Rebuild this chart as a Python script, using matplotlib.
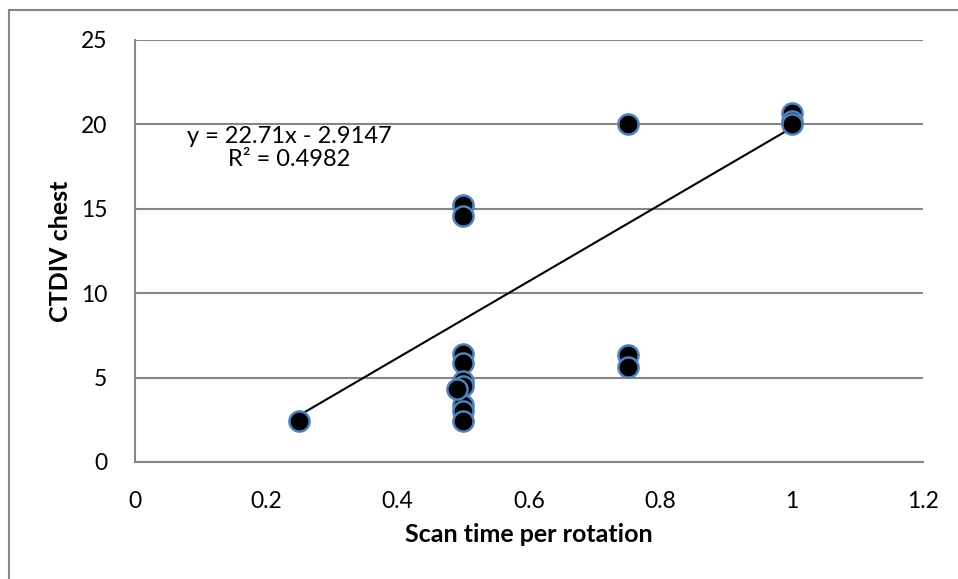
import matplotlib
matplotlib.use("Agg")
import matplotlib.pyplot as plt
from matplotlib.patches import Rectangle

# Data
scan_time = [0.25, 0.5, 0.5, 0.5, 0.5, 0.5, 0.5, 0.5, 0.49, 0.5, 0.5,
             0.75, 0.75, 0.75, 1.0, 1.0, 1.0]
ctdiv_chest = [2.45, 6.4, 5.85, 4.8, 4.5, 3.4, 3.0, 2.45, 4.3, 15.2, 14.6,
               20.0, 6.35, 5.6, 20.7, 20.2, 20.0]
slope = 22.71
intercept = -2.9147
r_squared = 0.4982
trend_x = [0.25, 1.0]
x_ticks = [0, 0.2, 0.4, 0.6, 0.8, 1, 1.2]
x_ticklabels = ["0", "0.2", "0.4", "0.6", "0.8", "1", "1.2"]
y_ticks = [0, 5, 10, 15, 20, 25]

plt.rcParams['font.family'] = ['Lato', 'DejaVu Sans']

W, H = 958, 579
fig = plt.figure(figsize=(W / 100, H / 100), dpi=100)
# outer chart border (only left/top visible)
fig.patches.append(Rectangle((9 / W, -0.1), 1.2, 1 - 10 / H + 0.1,
                             transform=fig.transFigure, fill=False,
                             edgecolor='#868686', linewidth=1.5))

ax = fig.add_axes([135 / W, (H - 462) / H, (923 - 135) / W, (462 - 40) / H])
ax.set_xlim(0, 1.2)
ax.set_ylim(0, 25)
ax.set_xticks(x_ticks)
ax.set_xticklabels(x_ticklabels)
ax.set_yticks(y_ticks)
ax.tick_params(axis='both', length=0, labelsize=16.5)
ax.tick_params(axis='x', pad=21)
ax.tick_params(axis='y', pad=20)
ax.yaxis.grid(True, color='#868686', linewidth=1.5)
ax.set_axisbelow(True)
for side in ['top', 'right']:
    ax.spines[side].set_visible(False)
for side in ['left', 'bottom']:
    ax.spines[side].set_color('#868686')
    ax.spines[side].set_linewidth(1.5)

trend_y = [slope * v + intercept for v in trend_x]
ax.plot(trend_x, trend_y, color='black', linewidth=1.5, zorder=2)
ax.scatter(scan_time, ctdiv_chest, s=210, color='black', edgecolors='#4F81BD',
           linewidths=1.8, zorder=3)

ax.text(0.2345, 18.6, f"y = {slope}x - {abs(intercept)}\nR\u00b2 = {r_squared}",
        ha='center', va='center', fontsize=17, linespacing=1.15)

ax.set_xlabel("Scan time per rotation", fontsize=18, fontweight='bold', labelpad=8)
ax.set_ylabel("CTDIV chest", fontsize=18, fontweight='bold', labelpad=6)

fig.savefig("out.png", dpi=100)
